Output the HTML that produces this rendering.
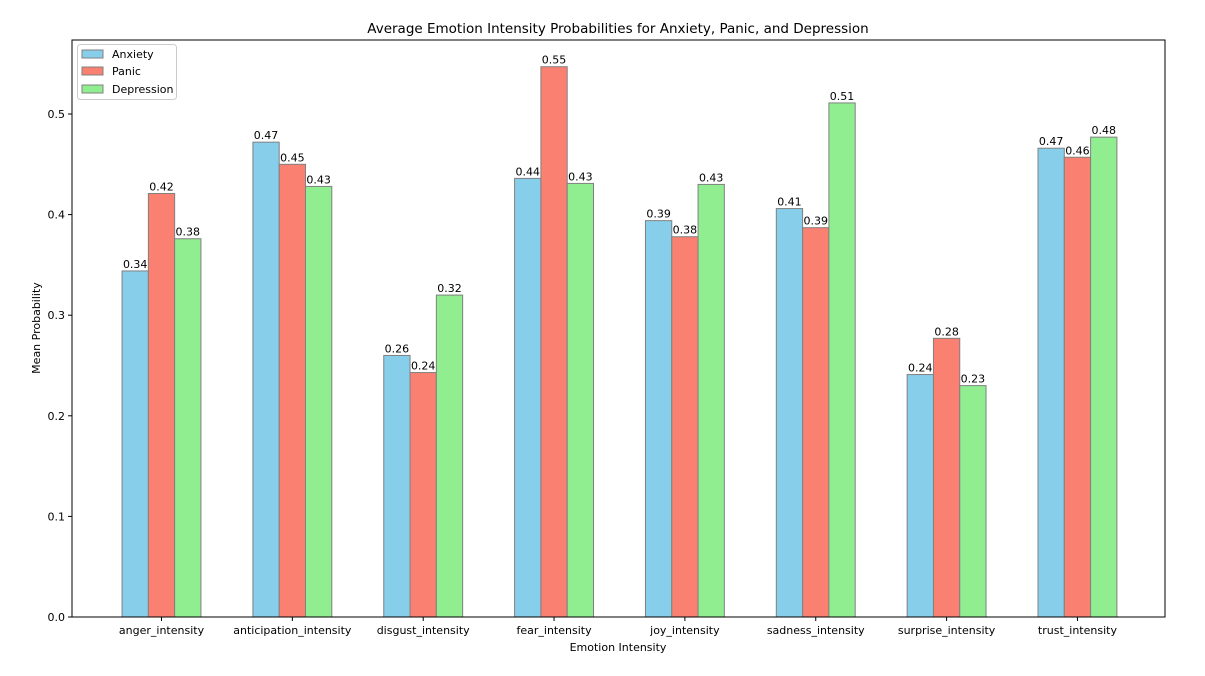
<!DOCTYPE html>
<html><head><meta charset="utf-8"><style>
body{margin:0;background:#fff;}
svg text{font-family:"DejaVu Sans","Liberation Sans",sans-serif;fill:#000;}
</style></head><body>
<svg id="chart" width="1205" height="671" xmlns="http://www.w3.org/2000/svg">
<rect width="1205" height="671" fill="#fff"/>
<text x="618" y="33" font-size="13.5" text-anchor="middle">Average Emotion Intensity Probabilities for Anxiety, Panic, and Depression</text>
<g id="bars"></g>
<g id="axes"></g>
<rect x="72" y="40" width="1093" height="577" fill="none" stroke="#000" stroke-width="1"/>
<text x="618" y="651" font-size="11" text-anchor="middle">Emotion Intensity</text>
<text transform="translate(40,328) rotate(-90)" font-size="11" text-anchor="middle">Mean Probability</text>
<g>
<rect x="77.5" y="44.5" width="99" height="55" rx="3" fill="#fff" stroke="#ccc"/>
<rect x="82" y="50" width="21" height="8" fill="#87CEEB" stroke="#808080"/>
<text x="112" y="58" font-size="11">Anxiety</text>
<rect x="82" y="67" width="21" height="8" fill="#FA8072" stroke="#808080"/>
<text x="112" y="75" font-size="11">Panic</text>
<rect x="82" y="85" width="21" height="8" fill="#90EE90" stroke="#808080"/>
<text x="112" y="93" font-size="11">Depression</text>
</g>
</svg>
<script>
const categories=["anger_intensity","anticipation_intensity","disgust_intensity","fear_intensity","joy_intensity","sadness_intensity","surprise_intensity","trust_intensity"];
const anxiety=[0.344,0.472,0.260,0.436,0.394,0.406,0.241,0.466];
const panic=[0.421,0.450,0.243,0.547,0.378,0.387,0.277,0.457];
const depression=[0.376,0.428,0.320,0.431,0.430,0.511,0.230,0.477];
const yTicks=[0,0.1,0.2,0.3,0.4,0.5];
const seriesNames=["anxiety","panic","depression"];
const NS="http://www.w3.org/2000/svg";
const colors=["#87CEEB","#FA8072","#90EE90"];
const x=i=>161.5+130.85*i;
const y=v=>617-v*1006;
const bw=26.3;
const bars=document.getElementById('bars'),axes=document.getElementById('axes');
function mk(tag,attrs,parent){const e=document.createElementNS(NS,tag);for(const k in attrs)e.setAttribute(k,attrs[k]);parent.appendChild(e);return e;}
[anxiety,panic,depression].forEach((s,j)=>{s.forEach((v,i)=>{
 const cx=x(i)+(j-1)*bw;
 const r=mk('rect',{x:cx-bw/2,y:y(v),width:bw,height:y(0)-y(v),fill:colors[j],stroke:'#808080','stroke-width':1},bars);
 
 
 const t=mk('text',{x:cx,y:y(v)-3,'font-size':11,'text-anchor':'middle'},bars);
 t.textContent=v.toFixed(2);
 
 
});});
yTicks.forEach(v=>{
 mk('line',{x1:68,x2:72,y1:y(v),y2:y(v),stroke:'#000'},axes);
 const t=mk('text',{x:65,y:y(v)+4,'font-size':11,'text-anchor':'end'},axes);
 t.textContent=v.toFixed(1);
 
 
});
categories.forEach((c,i)=>{
 mk('line',{x1:x(i),x2:x(i),y1:617,y2:621,stroke:'#000'},axes);
 const t=mk('text',{x:x(i),y:634,'font-size':11,'text-anchor':'middle'},axes);
 t.textContent=c;
 
 
});
</script>
</body></html>
